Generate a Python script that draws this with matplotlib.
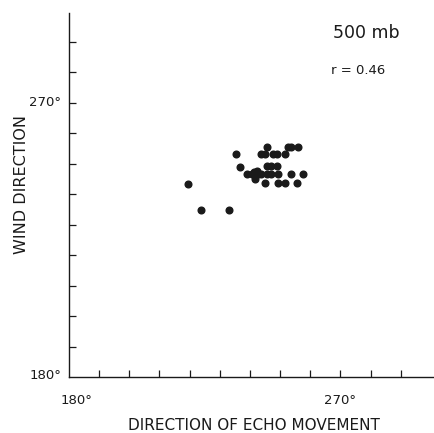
import matplotlib
matplotlib.use("Agg")
import matplotlib.pyplot as plt

# direction of echo movement (deg) and wind direction (deg), 500 mb
echo_dir = [219.5, 223.9, 233.1, 235.2, 236.6, 245.5, 243.8, 244.9, 247.6, 248.8,
            251.5, 252.6, 253.7, 255.9, 245.5, 247.1, 248.8, 239.1, 240.5, 241.4,
            242.2, 241.6, 242.7, 243.8, 245.5, 247.1, 249.3, 241.6, 253.7, 257.6,
            244.9, 249.3, 251.5, 255.7]
wind_dir = [243.5, 234.8, 234.8, 253.3, 249.0, 255.5, 253.1, 253.1, 253.1, 253.1,
            253.1, 255.5, 255.5, 255.5, 249.2, 249.2, 249.2, 246.6, 246.8, 247.3,
            247.6, 245.9, 246.8, 246.8, 246.8, 246.8, 246.8, 245.1, 246.8, 246.8,
            243.7, 243.7, 243.7, 243.7]

tick_pos = [190, 200, 210, 220, 230, 240, 250, 260, 270, 280, 290]
ink = "#1a1a1a"

fig = plt.figure(figsize=(4.34, 4.33), dpi=100)
ax = fig.add_axes([69/434, 56/433, 365/434, 364/433])

ax.plot(echo_dir, wind_dir, "o", color=ink, markersize=4.8, linestyle="none")

ax.set_xlim(180, 301)
ax.set_ylim(180, 299.5)
for s in ["top", "right"]:
    ax.spines[s].set_visible(False)
for s in ["left", "bottom"]:
    ax.spines[s].set_color(ink)
    ax.spines[s].set_linewidth(1.0)

ax.set_xticks(tick_pos)
ax.set_yticks(tick_pos)
ax.set_xticklabels([])
ax.set_yticklabels([])
ax.tick_params(direction="in", length=5, width=0.9, color=ink)

# the few labelled ticks
ax.text(182.5, 174.5, "180°", ha="center", va="top", fontsize=9.5, color=ink)
ax.text(270, 174.5, "270°", ha="center", va="top", fontsize=9.5, color=ink)
ax.text(177.5, 180.5, "180°", ha="right", va="center", fontsize=9.5, color=ink, clip_on=False)
ax.text(177.5, 270, "270°", ha="right", va="center", fontsize=9.5, color=ink, clip_on=False)

fig.text(254/434, 1 - 425/433, "DIRECTION OF ECHO MOVEMENT",
         ha="center", va="center", fontsize=11, color=ink)
fig.text(22/434, 1 - 184/433, "WIND DIRECTION", rotation=90,
         ha="center", va="center", fontsize=11.5, color=ink)

fig.text(366/434, 1 - 33/433, "500 mb", ha="center", va="center", fontsize=12.5,
         fontweight="medium", color=ink)
fig.text(358/434, 1 - 71/433, "r = 0.46", ha="center", va="center", fontsize=9.5, color=ink)

fig.savefig("out.png", dpi=100)
